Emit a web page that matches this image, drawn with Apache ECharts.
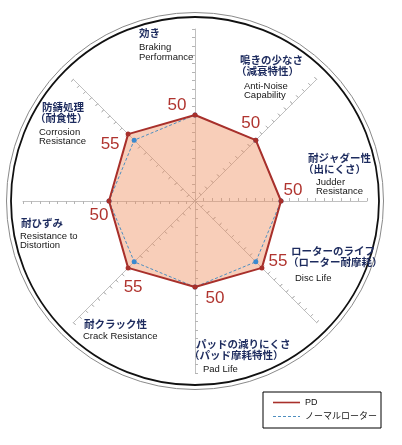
<!DOCTYPE html>
<html><head><meta charset="utf-8">
<script src="https://cdn.jsdelivr.net/npm/echarts@6/dist/echarts.min.js"></script>
<style>html,body{margin:0;padding:0;background:#fff}#c{width:402px;height:445px}</style>
</head><body><div id="c"></div>
<script>
// ---- data ----
// indicators in ECharts order (top, then counter-clockwise)
const catJa = [['効き'], ['防錆処理','（耐食性）'], ['耐ひずみ'], ['耐クラック性'], ['パッドの減りにくさ','（パッド摩耗特性）'], ['ローターのライフ','（ローター耐摩耗）'], ['耐ジャダー性','（出にくさ）'], ['鳴きの少なさ','（減衰特性）']];
const catEn = [['Braking','Performance'], ['Corrosion','Resistance'], ['Resistance to','Distortion'], ['Crack Resistance'], ['Pad Life'], ['Disc Life'], ['Judder','Resistance'], ['Anti-Noise','Capability']];
const pdValues = [50, 55, 50, 55, 50, 55, 50, 50];
const normalValues = [50, 50, 50, 50, 50, 50, 50, 50];
const seriesNames = ['PD', 'ノーマルローター'];
const axisMax = 100;

// ---- layout (positions only) ----
const labelPos = [ // [jaX, jaY, parenX, enX, enY]
  [139, 33, 0, 139, 47.5],
  [42, 107, 35, 39, 132],
  [21, 223, 0, 20, 236],
  [84, 324, 0, 83, 336],
  [196, 344, 189, 203, 369],
  [291, 251, 288, 295, 278],
  [308, 158, 303, 316, 182],
  [240, 60, 236, 244, 86]
];
const valueOffset = [[-18,-10],[-18,10],[-10,14],[5,19],[20,11],[16,-7],[12,-11],[-5,-17]];
const CX = 195, CY = 201, R = 172;
const RED = '#a8302b', BLUE = '#4f8fc0', NAVY = '#1d2b5e', TICK = '#b4b4b4';
const jaFont = 'bold 10.5px "Noto Sans CJK JP"';
const enFont = '9.5px "Liberation Sans", Arial, sans-serif';

const chart = echarts.init(document.getElementById('c'), null, {renderer:'canvas'});
const radarBase = {
  center: [CX, CY], radius: R, startAngle: 90, splitNumber: 20,
  indicator: catJa.map(c => ({name: c[0], min: 0, max: axisMax})),
  axisName: {show: false},
  splitLine: {show: false}, splitArea: {show: false}
};
chart.setOption({
  animation: false,
  backgroundColor: '#fff',
  radar: [
    Object.assign({}, radarBase, {
      axisLine: {show: true, lineStyle: {color: '#c0c0c0', width: 1}},
      axisTick: {show: true, length: 3, lineStyle: {color: TICK}}
    }),
    Object.assign({}, radarBase, {
      axisLine: {show: false},
      axisTick: {show: true, inside: true, length: 3, lineStyle: {color: TICK}}
    })
  ],
  legend: {
    orient: 'vertical', left: 263, top: 392,
    padding: [6, 4, 7, 10], itemGap: 5, itemWidth: 27, itemHeight: 2, itemTextGap: 6,
    borderColor: '#000', borderWidth: 1, borderRadius: 0, selectedMode: false,
    textStyle: {fontSize: 9, color: '#111', fontFamily: '"Liberation Sans", "Noto Sans CJK JP", sans-serif'},
    data: [
      {name: seriesNames[0], icon: 'path://M0,0H27V1.6H0Z', itemStyle: {color: RED}},
      {name: seriesNames[1], icon: 'path://M0,0H3V1H0Z M5,0H8V1H5Z M10,0H13V1H10Z M15,0H18V1H15Z M20,0H23V1H20Z M25,0H27V1H25Z', itemStyle: {color: BLUE}}
    ]
  },
  series: [
    {name: seriesNames[0], type: 'radar', radarIndex: 0, z: 1, symbol: 'none',
     lineStyle: {width: 0, opacity: 0}, itemStyle: {color: RED},
     areaStyle: {color: '#f09060', opacity: 0.44},
     data: [{value: pdValues, name: seriesNames[0]}]},
    {name: seriesNames[1], type: 'radar', radarIndex: 0, z: 2, symbol: 'circle', symbolSize: 5,
     itemStyle: {color: '#3a8ad0'}, lineStyle: {type: [3, 2], width: 1, color: BLUE},
     data: [{value: normalValues, name: seriesNames[1]}]},
    {name: seriesNames[0], type: 'radar', radarIndex: 0, z: 3, symbol: 'circle', symbolSize: 5,
     itemStyle: {color: RED}, lineStyle: {width: 2, color: RED},
     data: [{value: pdValues, name: seriesNames[0]}]}
  ]
});

// graphics: frame circles, category labels, value labels (positioned from the radar scale)
const g = [];
g.push({type: 'circle', silent: true, z: 0, shape: {cx: CX, cy: CY, r: 188.5}, style: {fill: null, stroke: '#8a8a8a', lineWidth: 1}});
g.push({type: 'circle', silent: true, z: 0, shape: {cx: CX, cy: CY, r: 184}, style: {fill: null, stroke: '#111', lineWidth: 1.8}});
catJa.forEach((lines, i) => {
  const p = labelPos[i];
  lines.forEach((t, k) => {
    g.push({type: 'text', z: 10, x: k === 0 ? p[0] : p[2], y: p[1] + k * 11.5,
      style: {text: t, fill: NAVY, font: jaFont, textVerticalAlign: 'middle'}});
  });
  catEn[i].forEach((t, k) => {
    g.push({type: 'text', z: 10, x: p[3], y: p[4] + k * 9.8,
      style: {text: t, fill: '#151515', font: enFont, textVerticalAlign: 'middle'}});
  });
});
let cs = null;
try { cs = chart.getModel().getComponent('radar', 0).coordinateSystem; } catch (e) {}
pdValues.forEach((v, i) => {
  let pt;
  if (cs && cs.dataToPoint) pt = cs.dataToPoint(v, i);
  else { const a = Math.PI / 2 + i * 2 * Math.PI / pdValues.length; pt = [CX + Math.cos(a) * R * v / axisMax, CY - Math.sin(a) * R * v / axisMax]; }
  g.push({type: 'text', z: 10, x: pt[0] + valueOffset[i][0], y: pt[1] + valueOffset[i][1],
    style: {text: String(v), fill: '#b0342f', font: '17px "Liberation Sans", Arial, sans-serif', textAlign: 'center', textVerticalAlign: 'middle'}});
});
chart.setOption({graphic: {elements: g}});
</script>
</body></html>
